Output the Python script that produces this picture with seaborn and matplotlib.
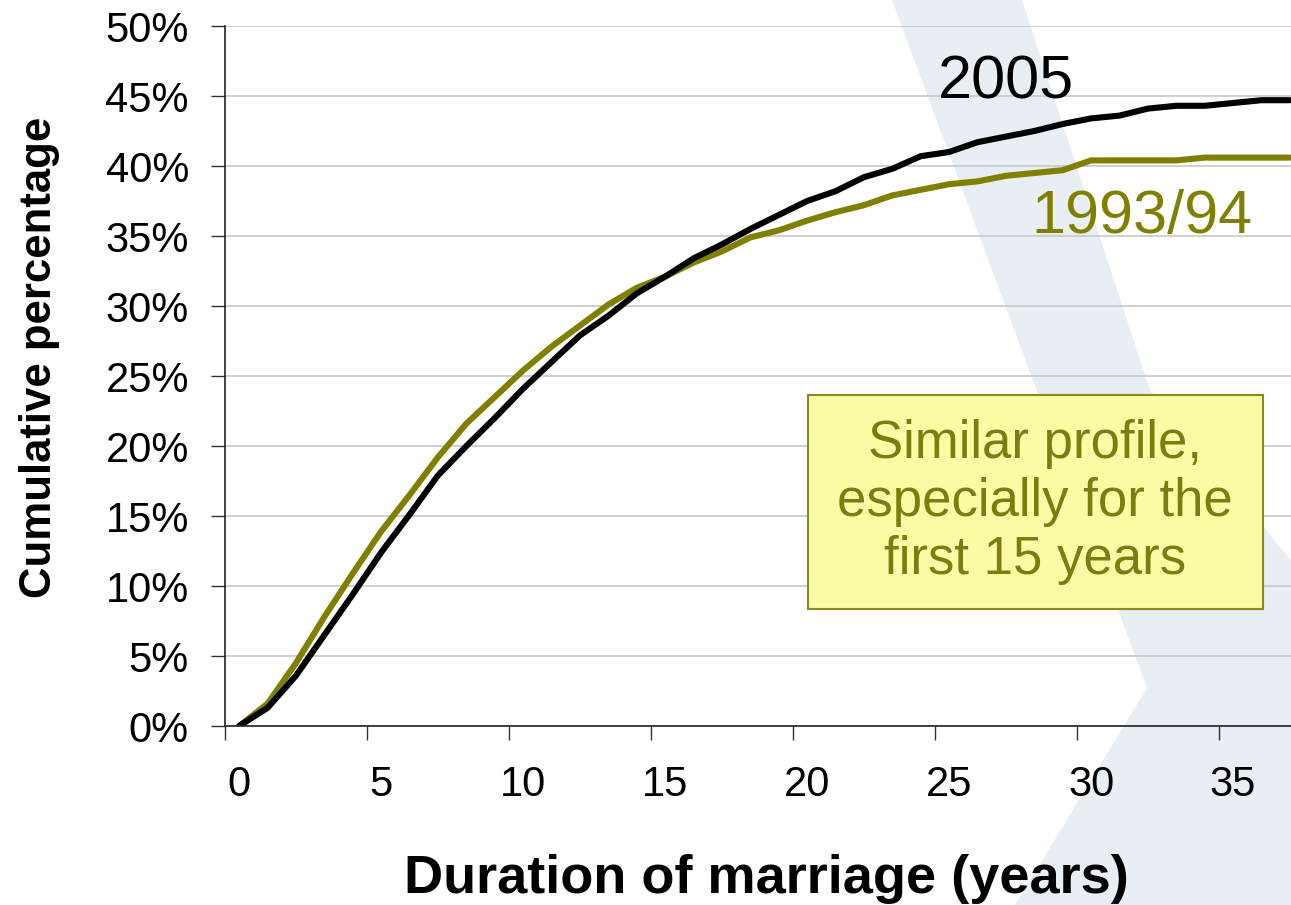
import numpy as np
import pandas as pd
import seaborn as sns
import matplotlib.pyplot as plt
from matplotlib.patches import Polygon, Rectangle
from matplotlib.ticker import FixedLocator, FuncFormatter

# --- data (cumulative % by duration of marriage) ---
years = list(range(38))
pct_2005 = [0, 1.3, 3.6, 6.5, 9.4, 12.4, 15.1, 17.9, 20.0, 22.0,
            24.1, 26.0, 27.9, 29.3, 30.9, 32.1, 33.4, 34.4, 35.5, 36.5,
            37.5, 38.2, 39.2, 39.8, 40.7, 41.0, 41.7, 42.1, 42.5, 43.0,
            43.4, 43.6, 44.1, 44.3, 44.3, 44.5, 44.7, 44.7]
pct_1993 = [0, 1.6, 4.5, 7.8, 10.9, 13.9, 16.5, 19.2, 21.6, 23.5,
            25.4, 27.1, 28.6, 30.1, 31.3, 32.1, 33.1, 33.9, 34.9, 35.4,
            36.1, 36.7, 37.2, 37.9, 38.3, 38.7, 38.9, 39.3, 39.5, 39.7,
            40.4, 40.4, 40.4, 40.4, 40.6, 40.6, 40.6, 40.6]
series_names = ['1993/94', '2005']
x_tick_labels = [0, 5, 10, 15, 20, 25, 30, 35]
y_ticks = [0, 5, 10, 15, 20, 25, 30, 35, 40, 45, 50]

df = pd.DataFrame({
    'duration': years * 2,
    'pct': pct_1993 + pct_2005,
    'survey': ['1993/94'] * len(years) + ['2005'] * len(years),
})

OLIVE = '#808000'

sns.set_style('white')
plt.rcParams['font.family'] = ['Liberation Sans', 'DejaVu Sans']
plt.rcParams['text.color'] = 'black'
plt.rcParams['axes.labelcolor'] = 'black'
plt.rcParams['xtick.color'] = 'black'
plt.rcParams['ytick.color'] = 'black'

W, H = 1291, 905
fig = plt.figure(figsize=(W / 100, H / 100), dpi=100)

# pale watermark chevron behind the chart
wm = [(892, 0), (1022, 0), (1150, 390), (1291, 560), (1291, 905),
      (1015, 905), (1147, 688)]
fig.patches.append(Polygon([(x / W, 1 - y / H) for x, y in wm], closed=True,
                           transform=fig.transFigure, facecolor='#e8eef3',
                           edgecolor='none', zorder=-5))

ax = fig.add_axes([225 / W, 1 - 726 / H, 1 - 225 / W, 700 / H])
ax.set_facecolor('none')

sns.lineplot(data=df, x='duration', y='pct', hue='survey', hue_order=series_names,
             palette={'1993/94': OLIVE, '2005': 'black'}, linewidth=4.4,
             legend=False, ax=ax)

ax.set_xlim(-0.5, 37.04)
ax.set_ylim(0, 50)

# y axis
ax.yaxis.set_major_locator(FixedLocator(y_ticks))
ax.yaxis.set_major_formatter(FuncFormatter(lambda v, p: f'{v:.0f}%'))
ax.tick_params(axis='y', which='major', length=10, width=1, color='#333333',
               direction='out', pad=16, labelsize=30, left=True)
ax.grid(axis='y', color='#c8c8c8', linewidth=1.2)
ax.grid(axis='x', visible=False)

# x axis: labels centred on categories, tick marks between them
ax.xaxis.set_major_locator(FixedLocator(x_tick_labels))
ax.xaxis.set_minor_locator(FixedLocator(np.arange(-0.5, 37, 5)))
ax.tick_params(axis='x', which='major', length=0, pad=28, labelsize=30)
ax.tick_params(axis='x', which='minor', length=10, width=1, color='#333333',
               direction='out', bottom=True)

for side in ['top', 'right']:
    ax.spines[side].set_visible(False)
for side in ['left', 'bottom']:
    ax.spines[side].set_color('#222222')
    ax.spines[side].set_linewidth(1.2)

ax.set_xlabel('Duration of marriage (years)', fontsize=39, fontweight='bold')
ax.xaxis.set_label_coords(0.5075, -0.183)
ax.set_ylabel('Cumulative percentage', fontsize=31.5, fontweight='bold')
ax.yaxis.set_label_coords(-0.155, 0.526)

# series labels
ax.text(27, 45.9, '2005', fontsize=44, color='black', ha='center', va='center')
ax.text(31.8, 36.3, '1993/94', fontsize=44, color=OLIVE, ha='center', va='center')

# note box
fig.patches.append(Rectangle((808 / W, 1 - 609 / H), 455 / W, 214 / H,
                             transform=fig.transFigure, facecolor='#fafca5',
                             edgecolor='#8a8a1e', linewidth=1.5, zorder=3))
fig.text(1035 / W, 1 - 502 / H, 'Similar profile,\nespecially for the\nfirst 15 years',
         fontsize=38, color='#7a7e10', ha='center', va='center',
         linespacing=1.2, zorder=4)

fig.savefig('out.png', dpi=100)
